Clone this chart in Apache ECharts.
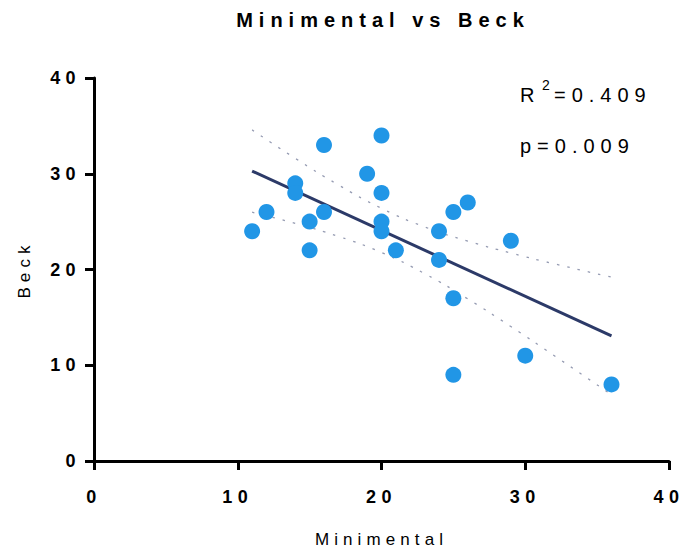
<!DOCTYPE html>
<html><head><meta charset="utf-8">
<script src="https://cdn.jsdelivr.net/npm/echarts@6/dist/echarts.min.js"></script>
<style>
html,body{margin:0;padding:0;background:#fff;overflow:hidden;}
#main{width:683px;height:550px;}
#main text{letter-spacing:0.3em;}
</style></head><body><div id="main"></div>
<script>
const minimental = [11,12,14,14,15,15,16,16,19,20,20,20,20,21,24,24,25,25,25,26,29,30,36];
const beck = [24,26,29,28,22,25,33,26,30,34,28,25,24,22,24,21,26,17,9,27,23,11,8];
const fitX = [11, 36];
const fitY = [30.28, 13.06];
const bandX = [11,14,17,20,23,26,29,32,36];
const bandUpper = [34.58,31.61,28.84,26.39,24.45,22.97,21.72,20.60,19.20];
const bandLower = [25.98,24.81,23.46,21.77,19.57,16.93,14.04,11.02,6.92];
const xTicks = [0,10,20,30,40];
const yTicks = [0,10,20,30,40];
const titleText = 'Minimental vs Beck';
const xName = 'Minimental';
const yName = 'Beck';
const r2Value = '=0.409';
const pLabel = 'p=0.009';

const FONT = '"Liberation Sans", Arial, sans-serif';
const chart = echarts.init(document.getElementById('main'), null, {renderer: 'svg', width: 683, height: 550});
const pair = (xs, ys) => xs.map((x, i) => [x, ys[i]]);
const axisCommon = {
  interval: 10,
  axisLine: {show: true, onZero: false, lineStyle: {color: '#000', width: 3}},
  axisTick: {show: true, inside: false, length: 9, lineStyle: {color: '#000', width: 3}},
  splitLine: {show: false},
  nameLocation: 'middle',
  nameTextStyle: {fontFamily: FONT, fontSize: 17, color: '#000'}
};
chart.setOption({
  animation: false,
  backgroundColor: '#fff',
  grid: {left: 94, right: 14, top: 78, bottom: 89, containLabel: false, outerBoundsMode: 'none'},
  xAxis: Object.assign({}, axisCommon, {
    type: 'value', name: xName, nameGap: 70,
    min: xTicks[0], max: xTicks[xTicks.length - 1],
    axisLabel: {margin: 27, fontFamily: FONT, fontSize: 18, fontWeight: 'bold', color: '#000'}
  }),
  yAxis: Object.assign({}, axisCommon, {
    type: 'value', name: yName, nameGap: 61,
    min: yTicks[0], max: yTicks[yTicks.length - 1],
    axisLabel: {margin: 13, fontFamily: FONT, fontSize: 18, fontWeight: 'bold', color: '#000'}
  }),
  graphic: [
    {type: 'text', x: 383, y: 20, style: {text: titleText, font: 'bold 20px ' + FONT, fill: '#000', textAlign: 'center', textVerticalAlign: 'middle'}},
    {type: 'text', x: 520, y: 95, style: {text: 'R', font: '20px ' + FONT, fill: '#000', textAlign: 'left', textVerticalAlign: 'middle'}},
    {type: 'text', x: 542, y: 85, style: {text: '2', font: '14px ' + FONT, fill: '#000', textAlign: 'left', textVerticalAlign: 'middle'}},
    {type: 'text', x: 554, y: 95, style: {text: r2Value, font: '20px ' + FONT, fill: '#000', textAlign: 'left', textVerticalAlign: 'middle'}},
    {type: 'text', x: 520, y: 146, style: {text: pLabel, font: '20px ' + FONT, fill: '#000', textAlign: 'left', textVerticalAlign: 'middle'}}
  ],
  series: [
    {type: 'line', data: pair(bandX, bandUpper), smooth: true, symbol: 'none', silent: true,
     lineStyle: {color: '#959bb2', width: 1.3, type: [2.5, 8]}, z: 1},
    {type: 'line', data: pair(bandX, bandLower), smooth: true, symbol: 'none', silent: true,
     lineStyle: {color: '#959bb2', width: 1.3, type: [2.5, 8]}, z: 1},
    {type: 'line', data: pair(fitX, fitY), symbol: 'none', silent: true,
     lineStyle: {color: '#2c3a68', width: 3}, z: 2},
    {type: 'scatter', data: pair(minimental, beck), symbolSize: 16,
     itemStyle: {color: '#2196e6', opacity: 1}, z: 3}
  ]
});
</script></body></html>
